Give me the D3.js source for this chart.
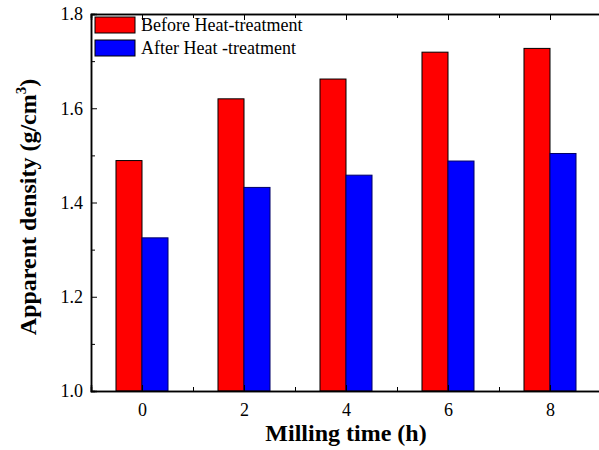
<html>
<script src="https://d3js.org/d3.v7.min.js"></script>
<style>
  body { margin:0; background:#fff; }
  text { font-family:"Liberation Serif","Times New Roman",serif; }
</style>
<body>
<svg id="plot"></svg>
<script>

// data
var millTimes = [0, 2, 4, 6, 8];
var beforeHT  = [1.489, 1.620, 1.662, 1.719, 1.727];
var afterHT   = [1.325, 1.432, 1.458, 1.488, 1.504];
var seriesNames = ["Before Heat-treatment", "After Heat -treatment"];
var seriesColors = ["#ff0000", "#0000ff"];
var yTicks = [1.0, 1.2, 1.4, 1.6, 1.8];
var yMinor = [1.1, 1.3, 1.5, 1.7];
var xTicks = [0, 2, 4, 6, 8];
var xMinor = [-1, 1, 3, 5, 7, 9];

var screen = {width:599, height:450};
var svg = d3.select("#plot")
    .attr("width", screen.width)
    .attr("height", screen.height);

// plot runs past the right edge like the original
var xScale = d3.scaleLinear().domain([-1, 9]).range([91, 601]);
var yScale = d3.scaleLinear().domain([1.0, 1.8]).range([391, 14]);
var barW = 0.51;

// bars
var g = svg.append("g").classed("bars", true);
g.selectAll("rect.before")
    .data(millTimes)
    .enter().append("rect")
    .attr("x", function(d) { return xScale(d - barW); })
    .attr("width", function(d) { return xScale(d) - xScale(d - barW); })
    .attr("y", function(d, i) { return yScale(beforeHT[i]); })
    .attr("height", function(d, i) { return yScale(1.0) - yScale(beforeHT[i]); })
    .attr("fill", seriesColors[0])
    .attr("stroke", "#000")
    .attr("stroke-width", 1);

g.selectAll("rect.after")
    .data(millTimes)
    .enter().append("rect")
    .attr("x", function(d) { return xScale(d); })
    .attr("width", function(d) { return xScale(d + barW) - xScale(d); })
    .attr("y", function(d, i) { return yScale(afterHT[i]); })
    .attr("height", function(d, i) { return yScale(1.0) - yScale(afterHT[i]); })
    .attr("fill", seriesColors[1])
    .attr("stroke", "#000066")
    .attr("stroke-width", 1);

// axes
var styleAxis = function(sel) {
    sel.selectAll("path").attr("stroke", "#000").attr("stroke-width", 1.5);
    sel.selectAll("line").attr("stroke", "#000").attr("stroke-width", 1);
    sel.selectAll("text").attr("font-size", 18).attr("fill", "#000")
        .style("font-family", "'Liberation Serif','Times New Roman',serif");
}

var yAxis = d3.axisLeft(yScale).tickValues(yTicks).tickSize(-6).tickPadding(8)
    .tickFormat(d3.format(".1f"));
svg.append("g").attr("transform", "translate(91,0)").call(yAxis).call(styleAxis);
svg.append("g").attr("transform", "translate(91,0)")
    .call(d3.axisLeft(yScale).tickValues(yMinor).tickSize(-4).tickFormat(""))
    .call(styleAxis);

var xAxis = d3.axisBottom(xScale).tickValues(xTicks).tickSize(-6).tickPadding(12);
svg.append("g").attr("transform", "translate(0,391)").call(xAxis).call(styleAxis);
svg.append("g").attr("transform", "translate(0,391)")
    .call(d3.axisBottom(xScale).tickValues(xMinor).tickSize(-4).tickFormat(""))
    .call(styleAxis);

// top mirror axis
svg.append("g").attr("transform", "translate(0,14)")
    .call(d3.axisTop(xScale).tickValues(xTicks).tickSize(-6).tickFormat(""))
    .call(styleAxis);
svg.append("g").attr("transform", "translate(0,14)")
    .call(d3.axisTop(xScale).tickValues(xMinor).tickSize(-4).tickFormat(""))
    .call(styleAxis);

// labels
svg.append("text")
    .text("Milling time (h)")
    .attr("text-anchor", "middle")
    .attr("font-weight", "bold")
    .attr("font-size", 24)
    .attr("x", 346)
    .attr("y", 441);

var ylab = svg.append("text")
    .attr("text-anchor", "middle")
    .attr("font-weight", "bold")
    .attr("font-size", 24)
    .attr("transform", "translate(36,207) rotate(-90)");
ylab.append("tspan").text("Apparent density (g/cm");
ylab.append("tspan").text("3").attr("font-size", 15).attr("dy", -10);
ylab.append("tspan").text(")").attr("dy", 10);

// legend
var legend = svg.append("g").classed("legend", true);
seriesNames.forEach(function(name, i) {
    legend.append("rect")
        .attr("x", 95).attr("y", 17 + i * 23)
        .attr("width", 40).attr("height", 16)
        .attr("fill", seriesColors[i])
        .attr("stroke", "#000").attr("stroke-width", 1);
    legend.append("text")
        .text(name)
        .attr("x", 141).attr("y", 31 + i * 23)
        .attr("font-size", 18);
});

</script>
</body>
</html>
